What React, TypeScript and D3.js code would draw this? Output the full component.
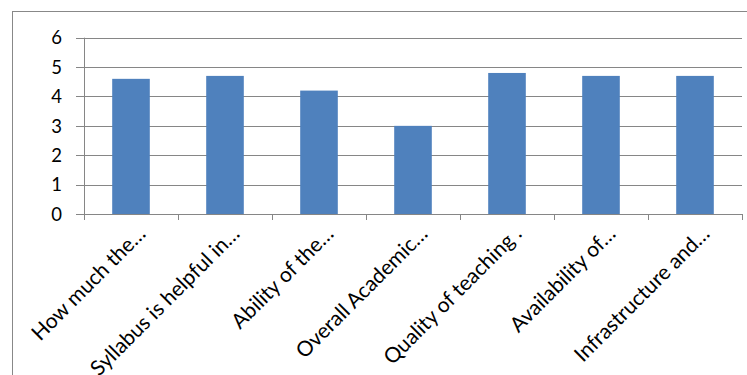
import React from "react";
import * as d3 from "d3";

const categories = [
  "How much the…",
  "Syllabus is helpful in…",
  "Ability of the…",
  "Overall Academic…",
  "Quality of teaching .",
  "Availability of…",
  "Infrastructure and…",
];
const values = [4.6, 4.7, 4.2, 3.0, 4.8, 4.7, 4.7];
const yTicks = [0, 1, 2, 3, 4, 5, 6];

const W = 747;
const H = 375;
const left = 84;
const right = 742;
const top = 37.7;
const bottom = 214;
const FONT = "Lato, 'Open Sans', sans-serif";
const FSY = 18.5;
const FSX = 21;

export default function App() {
  const x = d3.scaleBand<string>().domain(categories).range([left, right]).paddingInner(0.6).paddingOuter(0.3);
  const xb = d3.scaleBand<string>().domain(categories).range([left, right]);
  const y = d3.scaleLinear().domain([0, 6]).range([bottom, top]);
  const grid = "#868686";
  return (
    <svg width={W} height={H} style={{ position: "absolute", left: 0, top: 0, background: "#fff" }}>
      <rect x={12.5} y={11.5} width={W + 10} height={H + 10} fill="#fff" stroke="#888" strokeWidth={1} />
      {yTicks.map((t) => (
        <g key={t}>
          <line x1={left - 8} x2={right} y1={Math.round(y(t)) + 0.5} y2={Math.round(y(t)) + 0.5} stroke={grid} strokeWidth={1} />
          <text x={62} y={y(t)} dy="0.36em" textAnchor="end" fontFamily={FONT} fontSize={FSY} fill="#000">
            {t}
          </text>
        </g>
      ))}
      <line x1={left + 0.5} x2={left + 0.5} y1={top} y2={bottom + 6} stroke={grid} />
      {categories.map((c, i) => (
        <line key={"t" + i} x1={Math.round(xb(c)!) + 0.5} x2={Math.round(xb(c)!) + 0.5} y1={bottom} y2={bottom + 6} stroke={grid} />
      ))}
      <line x1={right + 0.5} x2={right + 0.5} y1={bottom} y2={bottom + 6} stroke={grid} />
      {categories.map((c, i) => (
        <rect key={"b" + i} x={x(c)} y={y(values[i])} width={x.bandwidth()} height={bottom - y(values[i])} fill="#4F81BD" />
      ))}
      {categories.map((c, i) => {
        const cx = xb(c)! + xb.bandwidth() / 2;
        return (
          <text
            key={"l" + i}
            transform={`translate(${cx + 16},${bottom + 21}) rotate(-45)`}
            textAnchor="end"
            fontFamily={FONT}
            fontSize={FSX}
            fill="#000"
          >
            {c}
          </text>
        );
      })}
    </svg>
  );
}
